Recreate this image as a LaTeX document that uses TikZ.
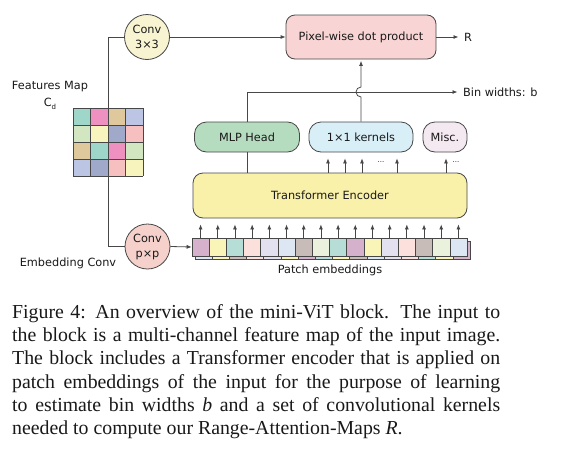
\documentclass[tikz,border=0pt]{standalone}
\usepackage{fontspec}
\setmainfont{DejaVu Sans}
\newfontfamily\capfont{Liberation Serif}
\usetikzlibrary{arrows.meta}
\definecolor{lc}{HTML}{474747}
\definecolor{cthree}{HTML}{F8F4D2}
\definecolor{cpp}{HTML}{F6D0CB}
\definecolor{pixc}{HTML}{F8D4D4}
\definecolor{mlpc}{HTML}{B6DCC0}
\definecolor{kernc}{HTML}{D9EFF8}
\definecolor{miscc}{HTML}{F4E8F1}
\definecolor{encc}{HTML}{F9F0AA}
% grid colours
\definecolor{gteal}{HTML}{9ED6CA}
\definecolor{gpink}{HTML}{EE91C0}
\definecolor{gtan}{HTML}{DFC89C}
\definecolor{gperi}{HTML}{BCC5E4}
\definecolor{glgr}{HTML}{D3E6C2}
\definecolor{glyel}{HTML}{F8F4BD}
\definecolor{gslate}{HTML}{A1A9CA}
\definecolor{glpink}{HTML}{F6C0C1}
% patch colours
\definecolor{pmauve}{HTML}{D5B1CB}
\definecolor{pyel}{HTML}{F9F5B8}
\definecolor{pteal}{HTML}{B6DED6}
\definecolor{ppink}{HTML}{FBE0DC}
\definecolor{plav}{HTML}{E3E0F0}
\definecolor{pblue}{HTML}{DDE6F3}
\definecolor{ptaupe}{HTML}{C8BCB8}
\definecolor{pgreen}{HTML}{EAF2DD}
\begin{document}
\begin{tikzpicture}[x=1pt,y=-1pt,
  every node/.style={font=\fontsize{11.3}{15}\selectfont, text=black!90},
  ln/.style={draw=lc, line width=0.8pt},
  arr/.style={ln, -{Latex[length=5pt,width=4pt]}},
  rbox/.style={draw=lc, line width=0.8pt, inner sep=0pt, minimum height=30pt, rounded corners=12pt},
  cnv/.style={circle, draw=lc, line width=0.8pt, inner sep=0pt, minimum size=45pt, align=center},
  patchbox/.style={draw=lc, line width=0.6pt, minimum width=17.1875pt, minimum height=18pt, inner sep=0pt},
  dots/.style={font=\fontsize{7}{7}\selectfont, inner sep=0pt},
]
\useasboundingbox[fill=white] (0,0) rectangle (562,466);

% feature map
\node[minimum width=70pt, minimum height=68pt, inner sep=0pt] (fmap) at (108,142) {};
\foreach \c [count=\i from 0] in {gteal,gpink,gtan,gperi, glgr,glyel,gslate,glpink, gtan,gteal,gpink,glgr, gperi,gslate,glpink,glyel} {
  \pgfmathtruncatemacro\col{mod(\i,4)}
  \pgfmathtruncatemacro\row{int(\i/4)}
  \fill[\c] ({73+17.5*\col},{108+17*\row}) rectangle ++(17.5,17);
}
\foreach \k in {0,...,4} {
  \draw[lc, line width=0.8pt] ({73+17.5*\k},108) -- ({73+17.5*\k},176);
  \draw[lc, line width=0.8pt] (73,{108+17*\k}) -- (143,{108+17*\k});
}
\node (fml) at (50,87) {Features Map};
\node (cd) at (50,104) {C\raisebox{-2.5pt}{\fontsize{7}{7}\selectfont d}};

% conv circles
\node[cnv, fill=cthree] (c3) at (147,37) {Conv\\3×3};
\node[cnv, fill=cpp] (cp) at (147.5,246.5) {Conv\\p×p};
\node (ecl) at (68,263) {Embedding Conv};

% boxes
\node[rbox, fill=pixc, minimum width=150pt, minimum height=44pt, rounded corners=9pt] (pix) at (361,37) {Pixel-wise dot product};
\node[rbox, fill=mlpc, minimum width=105pt] (mlp) at (247,137) {MLP Head};
\node[rbox, fill=kernc, minimum width=104pt] (kern) at (361,137) {1×1 kernels};
\node[rbox, fill=miscc, minimum width=44pt] (misc) at (445,137) {Misc.};
\node[rbox, fill=encc, minimum width=274pt, minimum height=45pt, rounded corners=10pt] (enc) at (330,195.5) {Transformer Encoder};

% patches: back row then front row
\foreach \c [count=\i from 0] in {pblue,pyel,ptaupe,ppink,plav,pyel,pmauve,pteal,pyel,ptaupe,pblue,plav,ppink,pteal,pyel,pmauve} {
  \node[patchbox, fill=\c] at ({195+17.1875*(\i+0.5)},250.5) {};
}
\foreach \c [count=\i from 0] in {pmauve,pyel,pteal,ppink,plav,pblue,ptaupe,pgreen,pteal,pmauve,pyel,plav,ppink,ptaupe,pgreen,pblue} {
  \node[patchbox, fill=\c] (p\i) at ({192+17.1875*(\i+0.5)},247) {};
}
\foreach \i in {0,...,15} {
  \draw[arr, shorten >=6pt] (p\i.north) -- (p\i.north |- enc.south);
}
\node (pel) at (330,270) {Patch embeddings};

% connectors
\draw[ln] (fmap.north) |- (c3.west);
\draw[ln] (fmap.south) |- (cp.west);
\draw[arr] (c3.east) -- (pix.west);
\draw[arr] (cp.east) -- (p0.west);

\draw[ln] (enc.north -| mlp.south) -- (mlp.south);
\node[anchor=west, inner sep=0pt] (bw) at (463,92) {Bin widths: b};
\draw[arr, shorten >=5.5pt] (mlp.north) |- (bw.west);

\coordinate (hop) at (kern.north |- bw.west);
\draw[arr, shorten >=1.5pt] (kern.north) -- ([yshift=-5pt]hop) arc[start angle=-90, end angle=-270, radius=5pt] -- (pix.south);

\node[anchor=west, inner sep=0pt] (rl) at (464,37) {R};
\draw[arr, shorten >=5.5pt] (pix.east) -- (rl.west);

\foreach \x in {328,345,362,397} {
  \draw[arr, shorten >=6pt] (enc.north -| \x,0) -- (kern.south -| \x,0);
}
\draw[arr, shorten >=6pt] (enc.north -| 446,0) -- (misc.south -| 446,0);
\node[dots] (d1) at (381,162) {...};
\node[dots] (d2) at (456,162) {...};

% caption
\node[anchor=north west, inner sep=0pt, align=left, font=\capfont\fontsize{19.8}{23.3}\selectfont] (cap) at (12,304) {%
\hbox to 488pt{Figure 4: An overview of the mini-ViT block. The input to}\\
\hbox to 488pt{the block is a multi-channel feature map of the input image.}\\
\hbox to 488pt{The block includes a Transformer encoder that is applied on}\\
\hbox to 488pt{patch embeddings of the input for the purpose of learning}\\
\hbox to 488pt{to estimate bin widths \textit{b} and a set of convolutional kernels}\\
needed to compute our Range-Attention-Maps \textit{R}.};
\end{tikzpicture}
\end{document}
